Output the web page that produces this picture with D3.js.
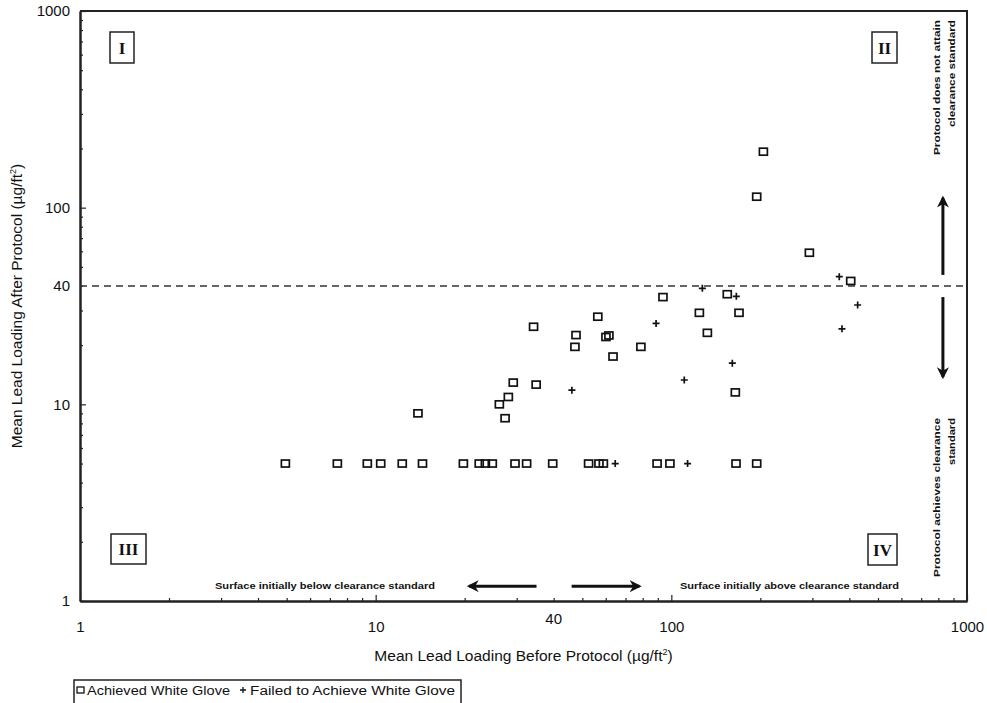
<!DOCTYPE html>
<html>
<head>
<meta charset="utf-8">
<script src="https://cdn.jsdelivr.net/npm/d3@7"></script>
<style>
  body { margin: 0; background: #fff; }
  text { font-family: "Liberation Sans", Arial, sans-serif; fill: #111; }
</style>
</head>
<body>
<svg width="987" height="703"></svg>
<script>
// surfaces that reached white glove (squares)
const achievedBefore = [4.95, 7.42, 9.37, 10.4, 12.3, 14.4, 19.8, 22.4, 23.5, 24.8, 29.6, 32.4, 39.7, 52.5, 56.9, 58.9, 89.5, 98.9, 165.5, 194.4,
  13.9, 26.2, 27.4, 28.1, 29.2, 34.9, 34.2, 47.6, 47.2, 56.4, 60.1, 61.5, 63.5, 78.9, 93.7, 124.4, 132.4, 154.6, 169.4, 164.6, 204.8, 194.4, 293, 404.3]
const achievedAfter = [5, 5, 5, 5, 5, 5, 5, 5, 5, 5, 5, 5, 5, 5, 5, 5, 5, 5, 5, 5,
  9.0, 10, 8.5, 10.9, 12.9, 12.6, 24.8, 22.5, 19.6, 27.9, 22.0, 22.4, 17.5, 19.6, 35.1, 29.2, 23.1, 36.3, 29.2, 11.5, 192.6, 113.7, 59.0, 42.4]
// surfaces that failed (plus signs)
const failedBefore = [64.6, 113.5, 46.1, 88.8, 110.6, 127.3, 165.9, 160.8, 369.8, 426.8, 377.7]
const failedAfter = [5, 5, 11.8, 25.8, 13.3, 38.9, 35.4, 16.2, 44.6, 32.0, 24.2]

const xTickLabels = [1, 10, 100, 1000]
const yTickLabels = [1, 10, 40, 100, 1000]
const clearanceStandard = 40
const legendLabels = ["Achieved White Glove", "Failed to Achieve White Glove"]

const svg = d3.select("svg")
const plotLeft = 80, plotRight = 967, plotTop = 11, plotBottom = 601

const x = d3.scaleLog().domain([1, 1000]).range([plotLeft, plotRight])
const y = d3.scaleLog().domain([1, 1000]).range([plotBottom, plotTop])

// all the minor log ticks 2..9 per decade
let minor = []
for (let d = 1; d < 1000; d *= 10) for (let k = 2; k <= 9; k++) minor.push(d * k)

const ink = "#222"

// minor ticks
svg.append("g").attr("transform", `translate(0,${plotBottom})`)
  .call(d3.axisBottom(x).tickValues(minor).tickSizeInner(-3).tickSizeOuter(0).tickFormat(""))
svg.append("g").attr("transform", `translate(${plotLeft},0)`)
  .call(d3.axisLeft(y).tickValues(minor).tickSizeInner(-3).tickSizeOuter(0).tickFormat(""))

// major ticks with labels
svg.append("g").attr("transform", `translate(0,${plotBottom})`)
  .call(d3.axisBottom(x).tickValues(xTickLabels).tickSizeInner(-6).tickSizeOuter(0).tickPadding(20).tickFormat(d3.format("d")))
let yAxis = svg.append("g").attr("transform", `translate(${plotLeft},0)`)
  .call(d3.axisLeft(y).tickValues(yTickLabels).tickSizeInner(-6).tickSizeOuter(0).tickPadding(10).tickFormat(d3.format("d")))
yAxis.selectAll(".tick").filter(d => d === clearanceStandard).select("line").attr("x2", 3)

svg.selectAll(".domain").attr("stroke", ink).attr("stroke-width", 2)
svg.selectAll(".tick line").attr("stroke", ink).attr("stroke-width", 1.2)
svg.selectAll(".tick text").style("font-size", "15px").attr("fill", "#111")
  .style("font-family", "'Liberation Sans', Arial, sans-serif")

// extra "40" label on x axis, a bit higher than the others
svg.append("text")
  .attr("x", x(clearanceStandard)).attr("y", plotBottom + 23)
  .attr("text-anchor", "middle").style("font-size", "15px")
  .text(clearanceStandard)

// frame top and right
svg.append("path")
  .attr("d", `M${plotLeft},${plotTop}H${plotRight}V${plotBottom}`)
  .attr("fill", "none").attr("stroke", ink).attr("stroke-width", 2)

// clearance line
svg.append("line")
  .attr("x1", plotLeft).attr("x2", plotRight)
  .attr("y1", y(clearanceStandard)).attr("y2", y(clearanceStandard))
  .attr("stroke", "#333").attr("stroke-width", 1.6).attr("stroke-dasharray", "7,5")

// axis titles
svg.append("text")
  .attr("x", (plotLeft + plotRight) / 2).attr("y", 661)
  .attr("text-anchor", "middle").style("font-size", "15.5px")
  .html("Mean Lead Loading Before Protocol (µg/ft<tspan dy='-6' style='font-size:9px'>2</tspan><tspan dy='6'>)</tspan>")
svg.append("text")
  .attr("transform", `translate(22,${(plotTop + plotBottom) / 2}) rotate(-90)`)
  .attr("text-anchor", "middle").style("font-size", "15.5px")
  .html("Mean Lead Loading After Protocol (µg/ft<tspan dy='-6' style='font-size:9px'>2</tspan><tspan dy='6'>)</tspan>")

// points
const achieved = achievedBefore.map((b, i) => ({ before: b, after: achievedAfter[i] }))
const failed = failedBefore.map((b, i) => ({ before: b, after: failedAfter[i] }))

svg.append("g").selectAll("rect")
  .data(achieved).enter().append("rect")
  .attr("x", d => x(d.before) - 4).attr("y", d => y(d.after) - 3.5)
  .attr("width", 8).attr("height", 7)
  .attr("fill", "none").attr("stroke", "#111").attr("stroke-width", 1.7)

const plus = "M-3.5,0H3.5M0,-3.5V3.5"
svg.append("g").selectAll("path")
  .data(failed).enter().append("path")
  .attr("transform", d => `translate(${x(d.before)},${y(d.after)})`)
  .attr("d", plus).attr("stroke", "#111").attr("stroke-width", 1.7)

// quadrant labels
const quads = [
  { t: "I", x: 110, y: 32, w: 24, h: 31 },
  { t: "II", x: 872, y: 32, w: 25, h: 31 },
  { t: "III", x: 111, y: 534, w: 35, h: 30 },
  { t: "IV", x: 868, y: 534, w: 29, h: 31 }
]
let qg = svg.append("g").selectAll("g").data(quads).enter().append("g")
qg.append("rect")
  .attr("x", d => d.x).attr("y", d => d.y).attr("width", d => d.w).attr("height", d => d.h)
  .attr("fill", "#fff").attr("stroke", ink).attr("stroke-width", 1.5)
qg.append("text")
  .attr("x", d => d.x + d.w / 2).attr("y", d => d.y + d.h / 2 + 6)
  .attr("text-anchor", "middle")
  .style("font-family", "'Liberation Serif', 'Times New Roman', serif")
  .style("font-weight", "bold").style("font-size", "17px")
  .text(d => d.t)

// arrows
svg.append("defs").append("marker")
  .attr("id", "head").attr("viewBox", "0 0 10 10")
  .attr("refX", 8).attr("refY", 5)
  .attr("markerWidth", 4).attr("markerHeight", 4)
  .attr("markerUnits", "strokeWidth").attr("orient", "auto")
  .append("path").attr("d", "M0,0L10,5L0,10L3,5Z").attr("fill", "#111")

const arrows = [
  [829, 45.5, 829, 112],
  [829, 35.1, 829, 13.8],
  [35.0, 1.19, 20.7, 1.19],
  [46.0, 1.19, 77.9, 1.19]
]
svg.append("g").selectAll("line").data(arrows).enter().append("line")
  .attr("x1", d => x(d[0])).attr("y1", d => y(d[1]))
  .attr("x2", d => x(d[2])).attr("y2", d => y(d[3]))
  .attr("stroke", "#111").attr("stroke-width", 3)
  .attr("marker-end", "url(#head)")

// small annotation texts
const notes = [
  { t: "Surface initially below clearance standard", x: 215, y: 589, len: 220 },
  { t: "Surface initially above clearance standard", x: 680, y: 589, len: 219 }
]
svg.selectAll(".note").data(notes).enter().append("text")
  .attr("class", "note")
  .attr("x", d => d.x).attr("y", d => d.y)
  .style("font-size", "9px").style("font-weight", "bold")
  .attr("textLength", d => d.len).attr("lengthAdjust", "spacingAndGlyphs")
  .text(d => d.t)

const sideNotes = [
  { t: "Protocol does not attain", cx: 940, y: 20, len: 135 },
  { t: "clearance standard", cx: 955, y: 20, len: 107 },
  { t: "Protocol achieves clearance", cx: 940, y: 418, len: 159 },
  { t: "standard", cx: 955, y: 418, len: 47 }
]
svg.selectAll(".side").data(sideNotes).enter().append("text")
  .attr("class", "side")
  .attr("transform", d => `translate(${d.cx},${d.y}) rotate(-90)`)
  .attr("text-anchor", "end")
  .style("font-size", "9px").style("font-weight", "bold")
  .attr("textLength", d => d.len).attr("lengthAdjust", "spacingAndGlyphs")
  .text(d => d.t)

// legend
let lg = svg.append("g")
lg.append("rect").attr("x", 74).attr("y", 680).attr("width", 387).attr("height", 24)
  .attr("fill", "none").attr("stroke", ink).attr("stroke-width", 1.5)
lg.append("rect").attr("x", 77).attr("y", 687).attr("width", 7).attr("height", 6)
  .attr("fill", "none").attr("stroke", "#111").attr("stroke-width", 1.3)
lg.append("text").attr("x", 87).attr("y", 695).style("font-size", "12px")
  .attr("textLength", 143).attr("lengthAdjust", "spacingAndGlyphs")
  .text(legendLabels[0])
lg.append("path").attr("transform", "translate(243,690)").attr("d", "M-3,0H3M0,-3V3")
  .attr("stroke", "#111").attr("stroke-width", 1.3)
lg.append("text").attr("x", 250).attr("y", 695).style("font-size", "12px")
  .attr("textLength", 205).attr("lengthAdjust", "spacingAndGlyphs")
  .text(legendLabels[1])
</script>
</body>
</html>
